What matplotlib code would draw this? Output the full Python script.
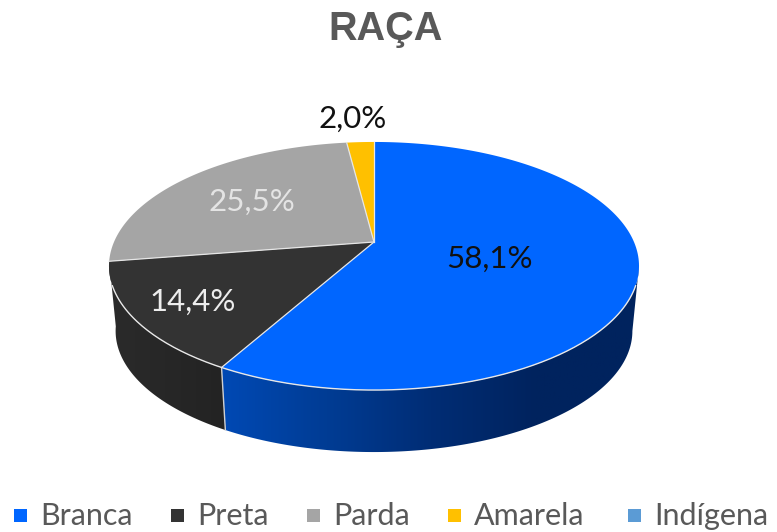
import numpy as np
import matplotlib
matplotlib.use("Agg")
import matplotlib.pyplot as plt
from matplotlib.colors import LinearSegmentedColormap
from matplotlib.patches import Polygon, Rectangle

categories = ["Branca", "Preta", "Parda", "Amarela", "Indígena"]
values = [58.1, 14.4, 25.5, 2.0, 0.0]

colors = ["#0066FF", "#333333", "#A5A5A5", "#FFC000", "#5B9BD5"]
text_colors = ["#111111", "#EDEDED", "#E4E4E4", "#111111"]
label_pos = [(489, 268), (193, 311), (252, 211), (353, 128)]
legend_x = [14, 171, 307, 448, 628]

# pie projection, in pixels of the picture
cx, cy = 374, 242
k = 0.1935


def rim(a0, a1, sx=260.0, sy=119.4, dy=0.0, n=200):
    # clockwise angles in degrees from the top of the pie
    t = np.radians(np.linspace(a0, a1, n))
    w = 1 + k * np.cos(t)
    return np.column_stack([cx + sx * np.sin(t) / w,
                            cy + dy - sy * np.cos(t) / w])


def bottom(a0, a1):
    return rim(a0, a1, sx=253.5, sy=116.5, dy=65.6)


def wall(ax, a0, a1, cmap, x0, x1):
    poly = np.vstack([rim(a0, a1), bottom(a1, a0)])
    grad = np.linspace(0, 1, 256).reshape(1, -1)
    im = ax.imshow(grad, cmap=cmap, extent=[x0, x1, 470, 200], aspect="auto", zorder=1)
    im.set_clip_path(Polygon(poly, transform=ax.transData))


fig = plt.figure(figsize=(7.77, 5.32), dpi=100)
ax = fig.add_axes([0, 0, 1, 1])

edges = np.cumsum([0] + values) * 3.6

blue_side = LinearSegmentedColormap.from_list(
    "blue_side", ["#0049B4", "#003C94", "#002D75", "#00235E", "#00235E"])
black_side = LinearSegmentedColormap.from_list("black_side", ["#2B2B2B", "#232323"])
# the wall starts where the ellipse is widest, so its right side is the tangent
widest = np.degrees(np.arccos(-k))
wall(ax, widest, edges[1], blue_side, 222, 640)
wall(ax, edges[1], edges[2], black_side, 105, 226)

# front edges
p0, p1 = rim(edges[1], edges[1], n=2)[0], bottom(edges[1], edges[1])[0]
ax.plot([p0[0], p1[0]], [p0[1], p1[1]], color="#D0D0D0", lw=1, zorder=2)

# top face
for i in range(len(values)):
    if values[i] == 0:
        continue
    pts = np.vstack([[cx, cy], rim(edges[i], edges[i + 1])])
    ax.add_patch(Polygon(pts, closed=True, facecolor=colors[i], edgecolor="none", zorder=3))
for a in edges[:4]:
    p = rim(a, a, n=2)[0]
    ax.plot([cx, p[0]], [cy, p[1]], color="#E6E6E6", lw=0.9, zorder=4)
front = rim(110, 250)
ax.plot(front[:, 0], front[:, 1], color="#E8E8E8", lw=1, zorder=4)

for i in range(4):
    ax.text(label_pos[i][0], label_pos[i][1], "{:.1f}%".format(values[i]).replace(".", ","),
            family="Lato", fontsize=22.5, color=text_colors[i],
            ha="center", va="baseline", zorder=5)

ax.text(386, 29, "RAÇA", family="Liberation Sans", fontweight="bold", fontsize=28.5,
        color="#595959", ha="center", va="center")

for i in range(len(categories)):
    ax.add_patch(Rectangle((legend_x[i], 509), 13, 13, facecolor=colors[i], edgecolor="none"))
    ax.text(legend_x[i] + 26, 525, categories[i], family="Lato", fontsize=22,
            color="#595959", ha="left", va="baseline")

ax.set_xlim(0, 777)
ax.set_ylim(532, 0)
ax.axis("off")
fig.savefig("out.png", dpi=100)
